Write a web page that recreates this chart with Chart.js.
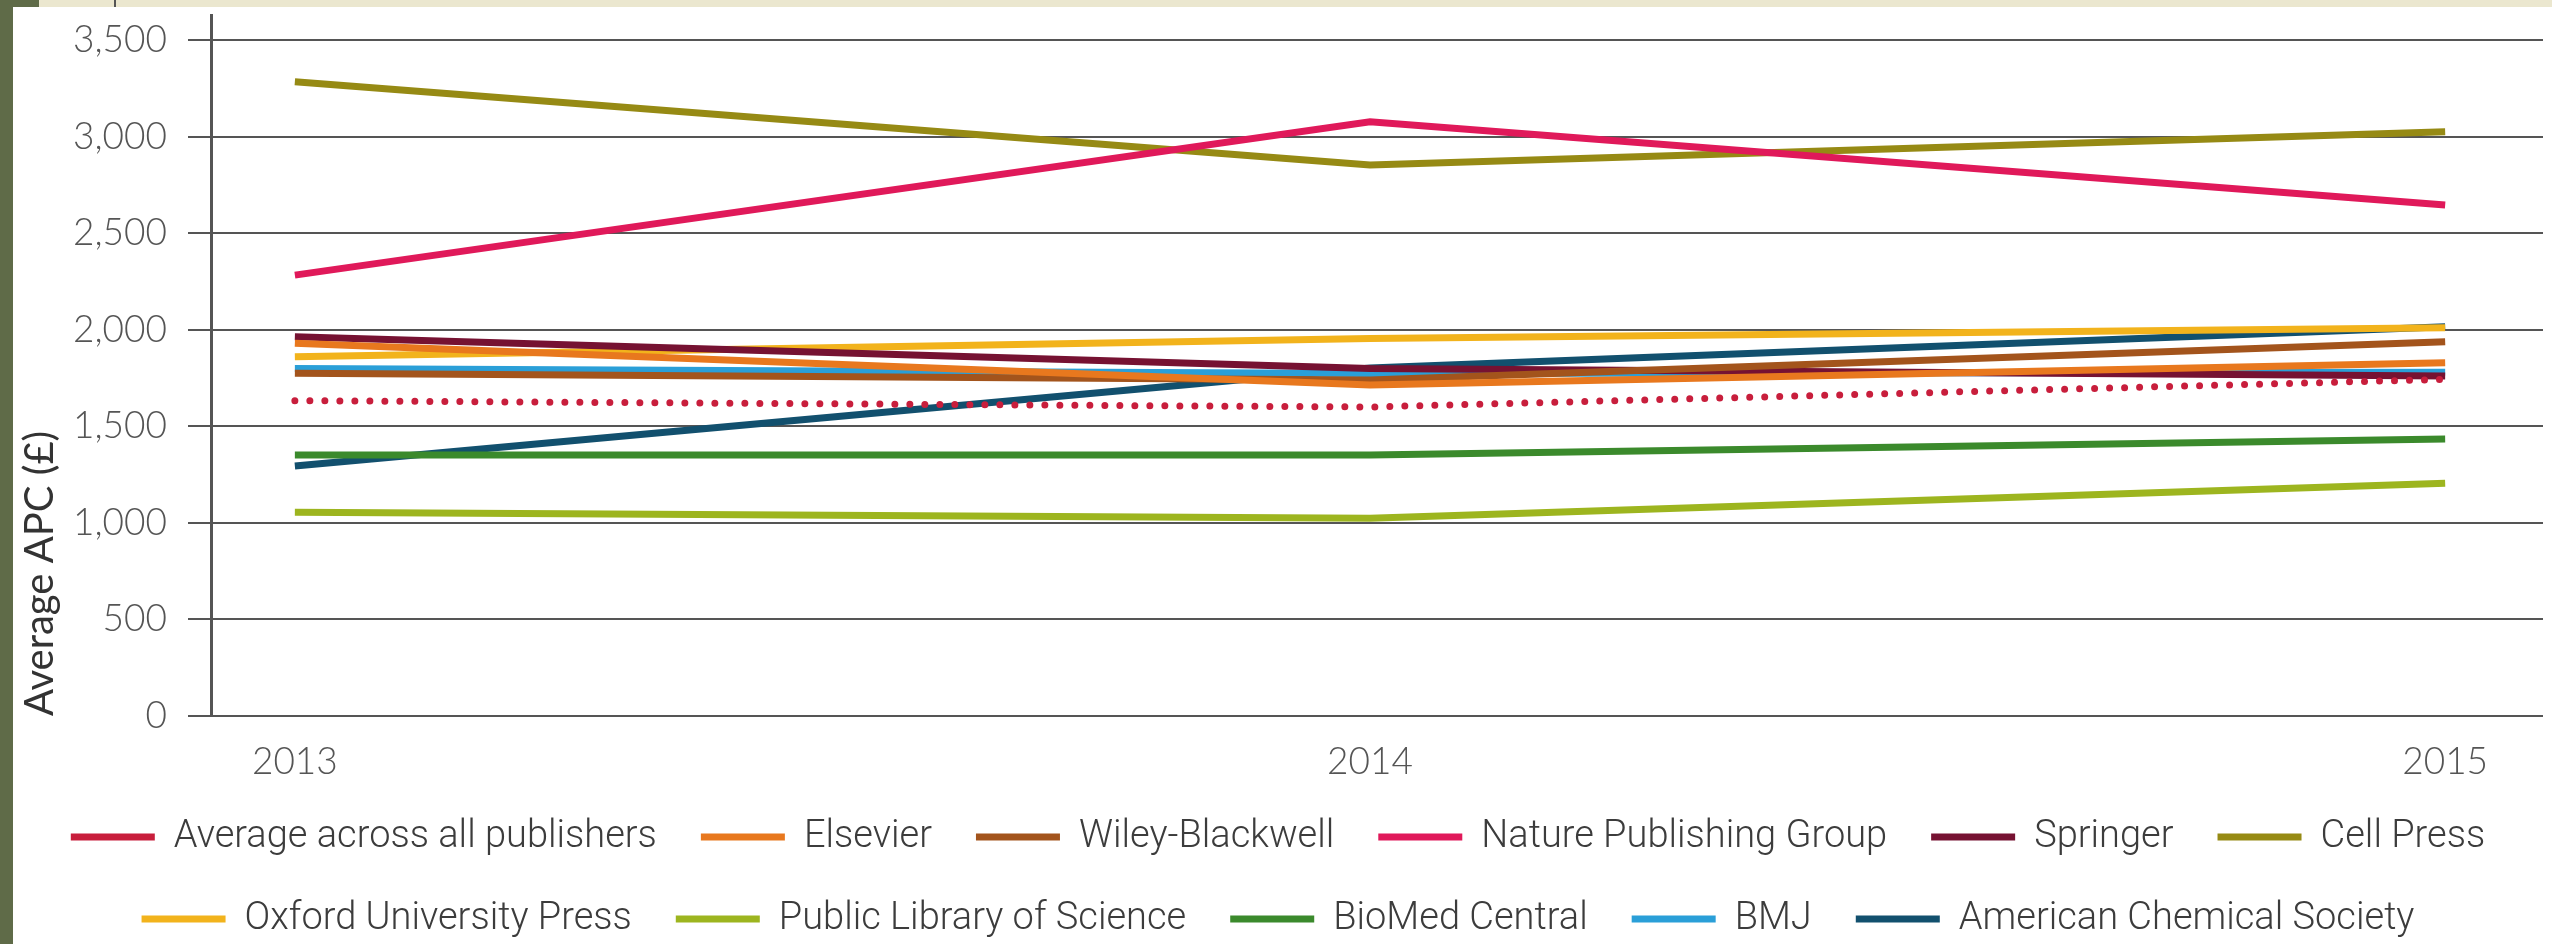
<!DOCTYPE html>
<html>
<head>
<meta charset="utf-8">
<title>Average APC by publisher</title>
<script src="https://cdn.jsdelivr.net/npm/chart.js@4/dist/chart.umd.min.js"></script>
<style>
  html, body { margin: 0; padding: 0; width: 2552px; height: 944px; overflow: hidden; background: #5f6b48; }
  #strip { position: absolute; left: 39px; top: 0; width: 2513px; height: 7px; background: #ebe7cf; }
  #strip-mark { position: absolute; left: 114px; top: 0; width: 2px; height: 7px; background: #555; }
  #wrap { position: absolute; left: 13px; top: 7px; width: 2539px; height: 941px; background: #fff; }
</style>
</head>
<body>
<div id="strip"></div>
<div id="strip-mark"></div>
<div id="wrap"><canvas id="apc-chart"></canvas></div>
<script>
// Years on the x axis
const years = [2013, 2014, 2015];
// Tick values on the y axis
const yTicks = [0, 500, 1000, 1500, 2000, 2500, 3000, 3500];

// Average APC (GBP) per publisher
const average = [1633, 1600, 1743];
const elsevier = [1930, 1714, 1829];
const wiley = [1775, 1740, 1938];
const nature = [2283, 3077, 2646];
const springer = [1964, 1800, 1760];
const cellPress = [3284, 2853, 3025];
const oxford = [1860, 1955, 2010];
const plos = [1055, 1024, 1205];
const bioMed = [1351, 1351, 1434];
const bmj = [1800, 1774, 1780];
const acs = [1295, 1802, 2016];

const publisherNames = [
    'Average across all publishers', 'Elsevier', 'Wiley-Blackwell', 'Nature Publishing Group',
    'Springer', 'Cell Press', 'Oxford University Press', 'Public Library of Science',
    'BioMed Central', 'BMJ', 'American Chemical Society'
];
const publisherValues = [average, elsevier, wiley, nature, springer, cellPress, oxford, plos, bioMed, bmj, acs];
const publisherColors = [
    '#c81e3c', '#e8781e', '#a3541c', '#e0195a', '#761232', '#968a14',
    '#f2b31c', '#9db51f', '#3b8a2c', '#2a9fd8', '#12506e'
];

const tickFont = { family: "Lato, 'Open Sans', sans-serif", size: 37, weight: 300 };

const datasets = publisherNames.map((name, i) => {
    const ds = {
        label: name,
        data: years.map((year, j) => ({ x: year, y: publisherValues[i][j] })),
        borderColor: publisherColors[i],
        backgroundColor: publisherColors[i],
        borderWidth: 7,
        pointRadius: 0,
        tension: 0,
        fill: false
    };
    if (i === 0) {
        // dotted line for the average
        ds.borderDash = [0, 15];
        ds.borderCapStyle = 'round';
    }
    return ds;
});

const ctx = document.getElementById('apc-chart').getContext('2d');
new Chart(ctx, {
    type: 'line',
    data: { datasets: datasets },
    options: {
        responsive: true,
        maintainAspectRatio: false,
        animation: false,
        layout: { padding: { top: 8, right: 9, left: 0, bottom: 0 } },
        scales: {
            x: {
                type: 'linear',
                min: 2012.922,
                max: 2015.091,
                grid: { display: false, drawTicks: false },
                border: { display: false },
                ticks: {
                    padding: 24,
                    color: '#555',
                    font: tickFont,
                    callback: (v) => String(v)
                },
                afterBuildTicks: (scale) => {
                    scale.ticks = years.map(v => ({ value: v }));
                },
                afterFit: (scale) => {
                    scale.height = 58;
                }
            },
            y: {
                min: 0,
                max: 3630,
                grid: { color: '#555', lineWidth: 2, tickLength: 23 },
                border: { display: true, color: '#555', width: 3 },
                ticks: {
                    padding: 21,
                    color: '#555',
                    font: tickFont
                },
                afterBuildTicks: (scale) => {
                    scale.ticks = yTicks.map(v => ({ value: v }));
                },
                title: {
                    display: true,
                    text: 'Average APC (£)',
                    align: 'start',
                    color: '#333',
                    padding: { top: 3, bottom: 0 },
                    font: { family: "Lato, 'Open Sans', sans-serif", size: 40 }
                },
                afterFit: (scale) => {
                    scale.width = 198;
                    scale.paddingTop = 0;
                    scale.paddingBottom = 0;
                }
            }
        },
        plugins: {
            legend: {
                position: 'bottom',
                labels: {
                    usePointStyle: true,
                    pointStyle: 'line',
                    pointStyleWidth: 84,
                    padding: 44,
                    color: '#3c3c3c',
                    font: { family: "Roboto, sans-serif", size: 38, weight: 300 }
                }
            },
            tooltip: { enabled: false }
        }
    }
});
</script>
</body>
</html>
